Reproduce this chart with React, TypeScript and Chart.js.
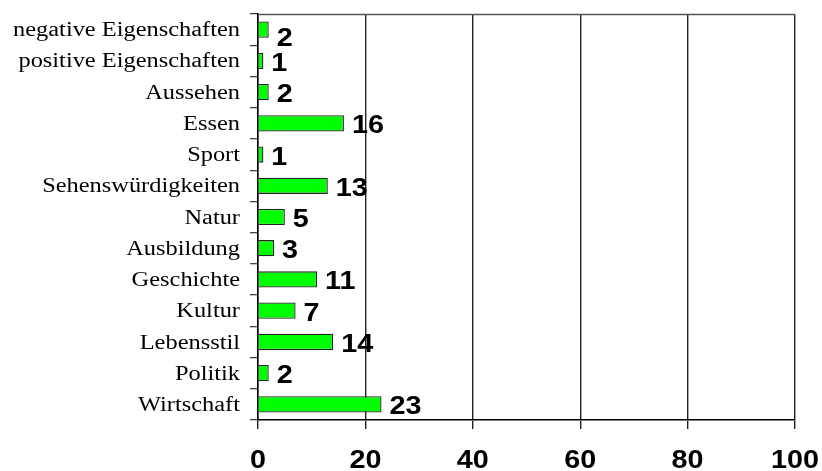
import React, { useEffect, useRef } from "react";
import { Chart, registerables } from "chart.js";

Chart.register(...registerables);

const categories = [
  "negative Eigenschaften",
  "positive Eigenschaften",
  "Aussehen",
  "Essen",
  "Sport",
  "Sehenswürdigkeiten",
  "Natur",
  "Ausbildung",
  "Geschichte",
  "Kultur",
  "Lebensstil",
  "Politik",
  "Wirtschaft",
];
const values = [2, 1, 2, 16, 1, 13, 5, 3, 11, 7, 14, 2, 23];
const xTicks = [0, 20, 40, 60, 80, 100];

const SERIF = '"Liberation Serif", "Times New Roman", serif';
const SANS = '"Liberation Sans", Arial, sans-serif';

const textPlugin = {
  id: "textPlugin",
  afterDraw(chart: any) {
    const ctx = chart.ctx;
    const area = chart.chartArea;
    const xs = chart.scales.x;
    const ys = chart.scales.y;
    ctx.save();
    // top border
    ctx.strokeStyle = "#555";
    ctx.lineWidth = 1.5;
    ctx.beginPath();
    ctx.moveTo(area.left, area.top + 0.5);
    ctx.lineTo(area.right, area.top + 0.5);
    ctx.stroke();

    ctx.fillStyle = "#000";
    // category labels
    ctx.font = `20px ${SERIF}`;
    ctx.textAlign = "right";
    ctx.textBaseline = "alphabetic";
    categories.forEach((c, i) => {
      const y = ys.getPixelForTick(i);
      ctx.save();
      ctx.translate(240, y + 6.6);
      ctx.scale(1.22, 1);
      ctx.fillText(c, 0, 0);
      ctx.restore();
    });
    // x tick labels
    ctx.font = `bold 25px ${SANS}`;
    ctx.textAlign = "center";
    xTicks.forEach((v) => {
      const x = xs.getPixelForValue(v);
      ctx.save();
      ctx.translate(x, 468);
      ctx.scale(1.15, 1);
      ctx.fillText(String(v), 0, 0);
      ctx.restore();
    });
    // value labels
    ctx.textAlign = "left";
    const meta = chart.getDatasetMeta(0);
    meta.data.forEach((bar: any, i: number) => {
      const off = i === 0 ? 16 : 10;
      ctx.save();
      ctx.translate(bar.x + 8, bar.y + off);
      ctx.scale(1.15, 1);
      ctx.fillText(String(values[i]), 0, 0);
      ctx.restore();
    });
    ctx.restore();
  },
};

export default function App() {
  const ref = useRef<HTMLCanvasElement | null>(null);
  useEffect(() => {
    if (!ref.current) return;
    const chart = new Chart(ref.current, {
      type: "bar",
      data: {
        labels: categories,
        datasets: [
          {
            data: values,
            backgroundColor: "#00ff00",
            borderColor: "#222",
            borderWidth: 1.3,
            barPercentage: 0.52,
            categoryPercentage: 1,
          },
        ],
      },
      options: {
        indexAxis: "y",
        animation: false,
        responsive: false,
        maintainAspectRatio: false,
        layout: { padding: { top: 14, right: 27, left: 0, bottom: 0 } },
        plugins: { legend: { display: false }, tooltip: { enabled: false } },
        scales: {
          x: {
            type: "linear",
            min: 0,
            max: 100,
            ticks: { stepSize: 20, display: false },
            grid: {
              color: "#222",
              lineWidth: 1.4,
              tickLength: 9,
              drawTicks: true,
              drawOnChartArea: true,
            },
            border: { display: true, color: "#000", width: 1.5 },
            afterFit: (s: any) => {
              s.height = 51;
            },
          },
          y: {
            type: "category",
            ticks: { display: false },
            grid: {
              color: "#444",
              lineWidth: 1.3,
              offset: true,
              tickLength: 8,
              drawOnChartArea: false,
              drawTicks: true,
            },
            border: { display: true, color: "#000", width: 1.5 },
            afterFit: (s: any) => {
              s.width = 258;
            },
          },
        },
      },
      plugins: [textPlugin],
    } as any);
    return () => chart.destroy();
  }, []);
  return (
    <div style={{ position: "fixed", left: 0, top: 0, width: 822, height: 471, background: "#fff" }}>
      <canvas ref={ref} width={822} height={471} style={{ display: "block" }} />
    </div>
  );
}
